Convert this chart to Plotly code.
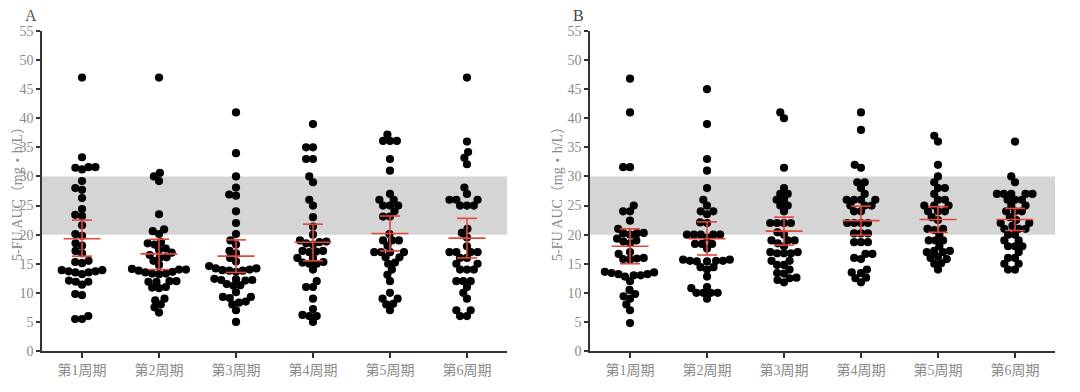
import math
import plotly.graph_objects as go

categories = ["第1周期", "第2周期", "第3周期", "第4周期", "第5周期", "第6周期"]
y_ticks = [0, 5, 10, 15, 20, 25, 30, 35, 40, 45, 50, 55]
target_low, target_high = 20, 30
y_title = "5-FU AUC（mg・h/L）"

# Panel A: 5-FU AUC per cycle
a1 = [47, 33.3, 31.6, 31.5, 31.2, 31.6, 29.2, 27.7, 28.0, 26.3, 24.4, 23.4, 23.2, 21.6, 19.8, 20.1,
      18.1, 18.5, 17.2, 16.8, 15.5, 15.1, 15.3, 13.9, 13.7, 13.5, 13.5, 13.7, 13.9, 13.2, 11.9, 11.9,
      12.1, 11.4, 9.8, 9.6, 6.0, 5.5, 5.5]
a2 = [47, 30.6, 30.0, 29.2, 23.5, 20.9, 20.6, 20.1, 18.7, 18.5, 18.3, 17.6, 17.4, 16.9, 16.5, 16.1,
      16.0, 15.5, 14.8, 14.1, 14.0, 13.8, 13.5, 13.3, 13.2, 13.3, 13.6, 14.0, 12.0, 11.9, 11.9, 12.0,
      10.9, 10.8, 11.0, 9.0, 8.7, 8.0, 7.5, 6.6]
a3 = [41, 34, 30, 28.1, 26.7, 26.9, 24, 22, 20.1, 18.3, 19.0, 17.2, 16.8, 16.0, 15.4, 14.6, 14.2,
      14.0, 13.8, 13.6, 13.8, 14.2, 13.9, 12.4, 12.2, 12.1, 12.3, 12.2, 11.5, 11.2, 11.3, 10.1, 9.3,
      9.1, 9.3, 8.5, 8.0, 8.3, 7.0, 5.0]
a4 = [39, 35, 35, 33, 33, 30, 29, 26, 25, 23, 21.4, 20.0, 19.0, 18.8, 18.7, 18.5, 18.3, 17.2, 17.0,
      17.1, 17.2, 16.0, 16.0, 15.2, 15.0, 15.0, 15.3, 14.0, 12.0, 11.0, 11.0, 9.0, 7.2, 6.2, 6.0, 6.0, 5.0]
a5 = [37.2, 36.1, 36.1, 36.1, 33, 31, 27, 26, 26, 25, 25, 25, 24, 23.1, 23.1, 20.1, 19.0, 19.0, 19.0,
      18.1, 17, 17, 17, 17, 16.1, 16.1, 15.2, 15, 14, 13.1, 12, 10, 9, 9, 8.1, 8, 7.0]
a6 = [47, 36, 34.2, 33.2, 32.1, 28.1, 27, 26, 26, 26, 25, 25, 25, 21, 20.3, 19.5, 18.0, 17.0, 17.0,
      17.0, 17.0, 16.0, 16.0, 15.0, 15.0, 14.0, 14.0, 14.0, 12.0, 12.0, 12.0, 11.0, 10.0, 9.0, 7.0,
      7.0, 6.0, 6.0]
a_mean = [19.3, 16.7, 16.3, 18.7, 20.2, 19.4]
a_upper = [22.5, 19.2, 19.1, 21.8, 23.2, 22.8]
a_lower = [16.3, 14.0, 13.5, 15.5, 17.2, 16.0]

# Panel B
b1 = [46.8, 41, 31.6, 31.6, 25, 24, 24, 22.4, 21, 20.3, 20.2, 20.2, 20.0, 19.3, 19.0, 18.8, 18.5,
      17.0, 16.7, 16.0, 15.9, 15.8, 15.7, 13.6, 13.4, 13.2, 13.0, 12.8, 13.0, 13.2, 13.5, 12.0, 10.5,
      9.8, 9.4, 9.0, 8.0, 7.0, 4.8]
b2 = [45, 39, 33, 31, 28, 26, 25, 24, 24, 23.5, 22.1, 22, 20, 20, 20, 20, 20, 19.5, 18.4, 18.4, 18.4,
      17.6, 15.7, 15.5, 15.5, 15.4, 15.4, 15.5, 15.7, 14.4, 14.0, 14.4, 12.8, 11.0, 10.8, 10.0, 10.0,
      10.0, 10.0, 9.0]
b3 = [41, 40, 31.5, 28, 27, 27, 26, 26, 25, 25, 24, 22, 22, 22, 22, 20.4, 20, 19, 19, 19, 18.5, 18,
      17, 17, 16.8, 16.8, 16.8, 15.5, 15.5, 14.8, 14.8, 14.0, 13.4, 13.3, 12.6, 12.5, 12.2, 11.8]
b4 = [41, 38, 32, 31.5, 29, 29, 28, 27, 26, 26, 26, 26, 25, 25, 25, 24, 24, 22, 22, 22, 22, 20.2,
      20.2, 20.2, 18.7, 18.7, 18.7, 16.7, 16.7, 16.0, 15.8, 14.0, 13.5, 13.4, 12.6, 12.5, 11.8]
b5 = [37, 36, 32, 30, 29, 28, 28, 27, 26, 26, 25, 25, 25, 24, 24, 24, 23, 22.5, 21, 21, 20.8,
      20, 19, 19, 19, 18, 17.2, 17.2, 17.0, 17.0, 16.2, 16, 15.8, 15.1, 15, 14.0]
b6 = [36, 30, 29, 27, 27, 27, 27, 27, 26, 26, 26, 25, 25, 24, 24, 24, 23, 22.5, 22, 22, 21.5, 21, 21,
      21, 20, 20, 19, 19, 18, 18, 18, 17, 16, 16, 15, 15, 14, 14]
b_mean = [18.0, 19.3, 20.6, 22.4, 22.6, 22.6]
b_upper = [21.0, 22.2, 23.0, 24.9, 24.8, 24.5]
b_lower = [15.0, 16.5, 18.2, 19.9, 20.4, 20.7]

panel_a = [a1, a2, a3, a4, a5, a6]
panel_b = [b1, b2, b3, b4, b5, b6]

# ---- layout constants (pixels, in page space; page has ~8px body offset) ----
OFF = 8
W, H = 1080, 392
Y0_PX, Y55_PX = 351 - OFF, 31 - OFF
PX_PER_UNIT = (Y0_PX - Y55_PX) / 55.0
PX_PER_CAT = 77.0
DOT = 8.2
GAP = 6.9
RED = "#e2463d"
GREY_TXT = "#8a8a8a"
SERIF = "Liberation Serif, Times New Roman, Noto Sans CJK SC, serif"


def swarm_offsets(vals):
    order = sorted(range(len(vals)), key=lambda i: vals[i])
    placed = []
    offs = [0.0] * len(vals)
    for i in order:
        y = vals[i] * PX_PER_UNIT
        ivs = []
        for xp, yp in placed:
            dy = abs(y - yp)
            if dy < GAP:
                w = math.sqrt(GAP * GAP - dy * dy)
                ivs.append((xp - w, xp + w))
        cands = [0.0] + [a for a, b in ivs] + [b for a, b in ivs]
        cands.sort(key=lambda c: (abs(c), c))
        pick = 0.0
        for c in cands:
            if all(not (a + 1e-6 < c < b - 1e-6) for a, b in ivs):
                pick = c
                break
        placed.append((pick, y))
        offs[i] = pick / PX_PER_CAT
    return offs


fig = go.Figure()

panels = [
    ("x", "y", panel_a, a_mean, a_upper, a_lower, (42 - OFF, 507 - OFF)),
    ("x2", "y2", panel_b, b_mean, b_upper, b_lower, (590 - OFF, 1055 - OFF)),
]

for xa, ya, groups, means, ups, lows, _ in panels:
    xs, ys = [], []
    for gi, vals in enumerate(groups):
        offs = swarm_offsets(vals)
        for v, o in zip(vals, offs):
            xs.append(gi + o)
            ys.append(v)
    fig.add_trace(go.Scatter(x=xs, y=ys, mode="markers", xaxis=xa, yaxis=ya,
                             marker=dict(color="black", size=DOT, line=dict(width=0)),
                             showlegend=False, hoverinfo="y"))
    lx, ly = [], []
    for gi in range(len(groups)):
        m, u, l = means[gi], ups[gi], lows[gi]
        lx += [gi - 0.24, gi + 0.24, None, gi, gi, None,
               gi - 0.13, gi + 0.13, None, gi - 0.13, gi + 0.13, None]
        ly += [m, m, None, l, u, None, u, u, None, l, l, None]
    fig.add_trace(go.Scatter(x=lx, y=ly, mode="lines", xaxis=xa, yaxis=ya,
                             line=dict(color=RED, width=1.6), showlegend=False,
                             hoverinfo="skip"))

ydom = [(H - Y0_PX) / H, (H - Y55_PX) / H]
layout = dict(
    width=W, height=H, margin=dict(l=0, r=0, t=0, b=0, autoexpand=False),
    paper_bgcolor="white", plot_bgcolor="white",
    showlegend=False,
)
for idx, (xa, ya, groups, *_rest) in enumerate(panels):
    px0, px1 = _rest[-1]
    xkey = "xaxis" if idx == 0 else "xaxis2"
    ykey = "yaxis" if idx == 0 else "yaxis2"
    layout[xkey] = dict(
        domain=[px0 / W, px1 / W], range=[-0.52, 5.52], automargin=False,
        tickmode="array", tickvals=list(range(len(categories))), ticktext=categories,
        showline=True, linecolor="#333", linewidth=1.5, ticks="outside", ticklen=5,
        tickwidth=1.5, tickcolor="#333", showgrid=False, zeroline=False,
        tickfont=dict(family=SERIF, size=14, color=GREY_TXT), anchor=ya,
        fixedrange=True,
    )
    layout[ykey] = dict(
        domain=ydom, range=[0, 55], tickvals=y_ticks, automargin=False,
        showline=True, linecolor="#333", linewidth=1.5, ticks="outside", ticklen=4,
        tickwidth=1.5, tickcolor="#333", showgrid=False, zeroline=False,
        tickfont=dict(family=SERIF, size=14, color=GREY_TXT), anchor=xa,
        fixedrange=True,
    )
fig.update_layout(**layout)

for xref, yref in [("x domain", "y"), ("x2 domain", "y2")]:
    fig.add_shape(type="rect", xref=xref, yref=yref, x0=0, x1=1,
                  y0=target_low, y1=target_high, fillcolor="#d5d5d5",
                  line=dict(width=0), layer="below")

ymid = (H - (Y0_PX + Y55_PX) / 2) / H
for tx in (17 - OFF, 557 - OFF):
    fig.add_annotation(x=tx / W, y=ymid, xref="paper", yref="paper", text=y_title,
                       textangle=-90, showarrow=False, xanchor="center", yanchor="middle",
                       borderpad=0, font=dict(family=SERIF, size=14, color=GREY_TXT))

fig.add_annotation(x=(31 - OFF) / W, y=(H - (15.5 - OFF)) / H, xref="paper", yref="paper",
                   text="A", showarrow=False, xanchor="center", yanchor="middle", borderpad=0,
                   font=dict(family=SERIF, size=16, color="#555"))
fig.add_annotation(x=(578 - OFF) / W, y=(H - (15 - OFF)) / H, xref="paper", yref="paper",
                   text="B", showarrow=False, xanchor="center", yanchor="middle", borderpad=0,
                   font=dict(family=SERIF, size=16, color="#444"))

fig.write_html("out.html")
